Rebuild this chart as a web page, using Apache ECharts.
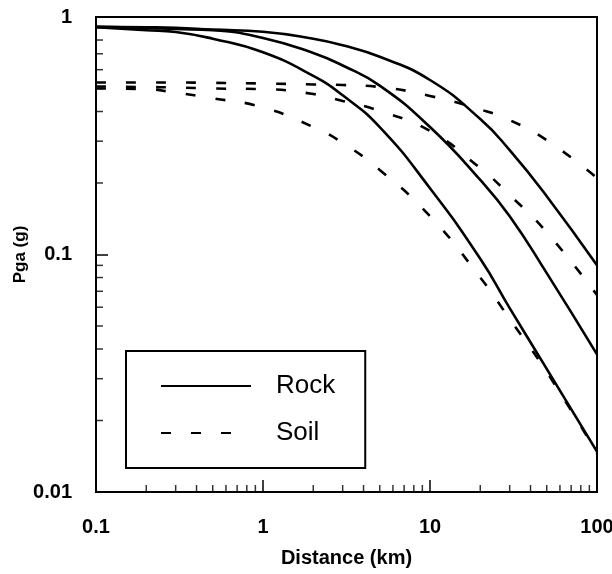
<!DOCTYPE html>
<html>
<head>
<meta charset="utf-8">
<script src="https://cdn.jsdelivr.net/npm/echarts@6/dist/echarts.min.js"></script>
<style>
html,body{margin:0;padding:0;background:#fff;}
#chart{width:612px;height:574px;}
</style>
</head>
<body>
<div id="chart"></div>
<script>
// ---- data ----
const distances = [0.1, 0.2, 0.3, 0.5, 1, 2, 3, 5, 10, 20, 30, 50, 100];
const rockHigh  = [0.91, 0.905, 0.90, 0.885, 0.867, 0.81, 0.76, 0.68, 0.543, 0.372, 0.275, 0.176, 0.090];
const rockMid   = [0.91, 0.90, 0.89, 0.88, 0.816, 0.706, 0.625, 0.514, 0.344, 0.206, 0.145, 0.0835, 0.038];
const rockLow   = [0.905, 0.88, 0.865, 0.81, 0.71, 0.565, 0.468, 0.344, 0.19, 0.096, 0.0595, 0.033, 0.0148];
const soilHigh  = [0.53, 0.53, 0.53, 0.528, 0.525, 0.52, 0.517, 0.507, 0.465, 0.408, 0.368, 0.303, 0.21];
const soilMid   = [0.51, 0.507, 0.505, 0.50, 0.497, 0.474, 0.443, 0.402, 0.331, 0.231, 0.178, 0.124, 0.0675];
const soilLow   = [0.50, 0.497, 0.48, 0.455, 0.416, 0.344, 0.295, 0.227, 0.145, 0.08, 0.0535, 0.032, 0.0146];

const xTickValues = [0.1, 1, 10, 100];
const xTickLabels = ['0.1', '1', '10', '100'];
const yTickValues = [0.01, 0.1, 1];
const yTickLabels = ['0.01', '0.1', '1'];
const xMinorTicks = [0.2,0.3,0.4,0.5,0.6,0.7,0.8,0.9, 2,3,4,5,6,7,8,9, 20,30,40,50,60,70,80,90];
const yMinorTicks = [0.02,0.03,0.04,0.05,0.06,0.07,0.08,0.09, 0.2,0.3,0.4,0.5,0.6,0.7,0.8,0.9];
const legendNames = ['Rock', 'Soil'];

// ---- chart ----
const FONT = '"Liberation Sans", Arial, Helvetica, sans-serif';
function labelFor(values, labels) {
  return function (v) {
    for (let i = 0; i < values.length; i++) {
      if (Math.abs(Math.log10(values[i]) - Math.log10(v)) < 1e-6) return labels[i];
    }
    return '';
  };
}
function pairs(ys) { return distances.map((d, i) => [d, ys[i]]); }

const solidStyle = { color: '#000', width: 2.6, type: 'solid' };
const dashStyle = { color: '#000', width: 2.6, type: [10, 20] };

function lineSeries(name, ys, style) {
  return {
    type: 'line', name: name, data: pairs(ys), smooth: 0.5,
    symbol: 'none', showSymbol: false, lineStyle: style, itemStyle: { color: '#000' },
    silent: true, clip: true, z: 3
  };
}

const chart = echarts.init(document.getElementById('chart'), null, { renderer: 'canvas' });
chart.setOption({
  animation: false,
  backgroundColor: '#fff',
  textStyle: { fontFamily: FONT },
  grid: { left: 96, right: 15, top: 17, bottom: 82, show: true, borderColor: '#000', borderWidth: 2,
          containLabel: false, outerBoundsMode: 'none' },
  legend: {
    data: legendNames,
    orient: 'vertical',
    left: 126, top: 351,
    itemWidth: 90, itemHeight: 14, itemGap: 21,
    padding: [22, 30, 22, 34],
    borderColor: '#000', borderWidth: 2, backgroundColor: '#fff',
    selectedMode: false,
    itemStyle: { opacity: 0 },
    textStyle: { fontFamily: FONT, fontSize: 26, color: '#000', lineHeight: 26, padding: [0, 0, 0, 20] }
  },
  xAxis: {
    type: 'log', logBase: 10, min: 0.1, max: 100,
    name: 'Distance (km)', nameLocation: 'middle', nameGap: 56, nameMoveOverlap: false,
    nameTextStyle: { fontFamily: FONT, fontSize: 20, fontWeight: 'bold', color: '#000' },
    axisLine: { lineStyle: { color: '#000', width: 2 } },
    axisTick: { inside: true, length: 12, lineStyle: { color: '#000', width: 1.5 } },
    axisLabel: { formatter: labelFor(xTickValues, xTickLabels), fontFamily: FONT, fontSize: 20, fontWeight: 'bold', color: '#000', margin: 25 },
    splitLine: { show: false }
  },
  yAxis: {
    type: 'log', logBase: 10, min: 0.01, max: 1,
    name: 'Pga (g)', nameLocation: 'middle', nameGap: 67, nameRotate: 90, nameMoveOverlap: false,
    nameTextStyle: { fontFamily: FONT, fontSize: 17, fontWeight: 'bold', color: '#000' },
    axisLine: { lineStyle: { color: '#000', width: 2 } },
    axisTick: { inside: true, length: 12, lineStyle: { color: '#000', width: 1.5 } },
    axisLabel: { formatter: labelFor(yTickValues, yTickLabels), fontFamily: FONT, fontSize: 20, fontWeight: 'bold', color: '#000', margin: 24 },
    splitLine: { show: false }
  },
  series: [
    lineSeries('Rock', rockHigh, solidStyle),
    lineSeries('Rock', rockMid, solidStyle),
    lineSeries('Rock', rockLow, solidStyle),
    lineSeries('Soil', soilHigh, dashStyle),
    lineSeries('Soil', soilMid, dashStyle),
    lineSeries('Soil', soilLow, dashStyle),
    {
      type: 'scatter', name: 'xminor', silent: true, clip: false, z: 4,
      data: xMinorTicks.map(v => [v, 0.01]),
      symbol: 'rect', symbolSize: [1.5, 7], symbolOffset: [0, -3.5],
      itemStyle: { color: '#000' }
    },
    {
      type: 'scatter', name: 'yminor', silent: true, clip: false, z: 4,
      data: yMinorTicks.map(v => [0.1, v]),
      symbol: 'rect', symbolSize: [7, 1.5], symbolOffset: [3.5, 0],
      itemStyle: { color: '#000' }
    }
  ]
});
</script>
</body>
</html>
